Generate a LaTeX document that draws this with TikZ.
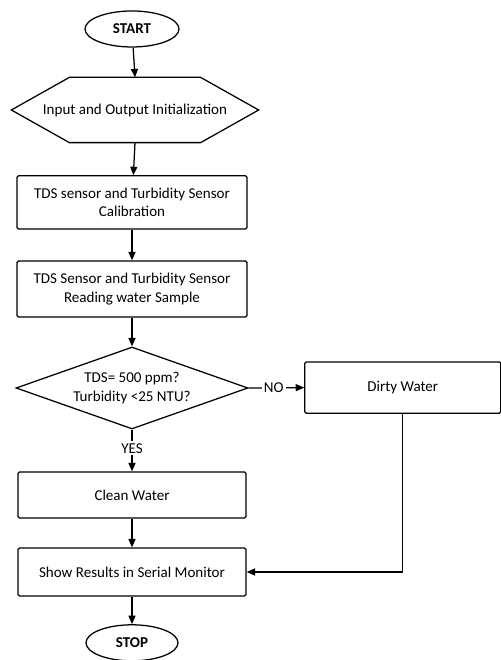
\documentclass[tikz,border=0pt]{standalone}
\usepackage{fontspec}
\setmainfont{Carlito}
\usetikzlibrary{
    positioning,
    arrows.meta,
    shapes.geometric
}

\begin{document}
\begin{tikzpicture}[
    font=\fontsize{10.7}{13}\selectfont,
    line width=0.9pt,
    terminal/.style={
        ellipse,
        draw,
        font=\fontsize{10.7}{13}\selectfont\bfseries,
        minimum width=2.35cm,
        minimum height=0.9cm,
        inner sep=0pt
    },
    prep/.style={
        minimum width=6.15cm,
        minimum height=1.6cm,
        inner sep=0pt
    },
    box/.style={
        draw,
        rounded corners=1pt,
        align=center,
        minimum width=5.75cm,
        inner sep=0pt
    },
    decision/.style={
        diamond,
        draw,
        aspect=2.8,
        align=center,
        minimum width=5.8cm,
        minimum height=2.05cm,
        inner sep=0pt
    },
    arrow/.style={-{Triangle[length=6pt,width=5pt]}},
    tag/.style={fill=white, inner sep=1.5pt}
]

% Set bounding box to the size of the figure
\useasboundingbox (0,0) rectangle (12.525,16.5);

% ================= MAIN COLUMN =================
\node[terminal] (start) at (3.3,15.775) {START};

\node[prep] (init) at (3.375,13.75) {Input and Output Initialization};
% hexagon outline round the initialization step
\draw (init.west) -- ([xshift=1.45cm]init.north west)
    -- ([xshift=-1.45cm]init.north east) -- (init.east)
    -- ([xshift=-1.45cm]init.south east)
    -- ([xshift=1.45cm]init.south west) -- cycle;

\node[box, minimum height=1.33cm] (calib) at (3.3,11.44)
{TDS sensor and Turbidity Sensor\\Calibration};

\node[box, minimum height=1.4cm] (read) at (3.3,9.275)
{TDS Sensor and Turbidity Sensor\\Reading water Sample};

\node[decision] (check) at (3.3,6.8)
{TDS= 500 ppm?\\Turbidity <25 NTU?};

\node[box, minimum width=5.7cm, minimum height=1.15cm] (clean) at (3.3,4.125)
{Clean Water};

\node[box, minimum width=5.7cm, minimum height=1.2cm] (show) at (3.3,2.2)
{Show Results in Serial Monitor};

\node[terminal, minimum width=2.3cm] (stop) at (3.3,0.43) {STOP};

% ================= SIDE BRANCH =================
\node[box, minimum width=4.9cm, minimum height=1.28cm] (dirty) at (10.07,6.81)
{Dirty Water};

% ================= ARROWS =================
\draw[arrow] (start) -- (init.north);
\draw[arrow] (init.south) -- (calib);
\draw[arrow] (calib) -- (read);
\draw[arrow] (read) -- (check);
\draw[arrow] (check.east) -- node[tag, pos=0.45] {NO} (dirty.west);
\draw[arrow] (check.south) -- node[tag, pos=0.45] {YES} (clean.north);
\draw[arrow] (clean) -- (show);
\draw[arrow] (dirty.south) |- (show.east);
\draw[arrow] (show) -- (stop);

\end{tikzpicture}
\end{document}
